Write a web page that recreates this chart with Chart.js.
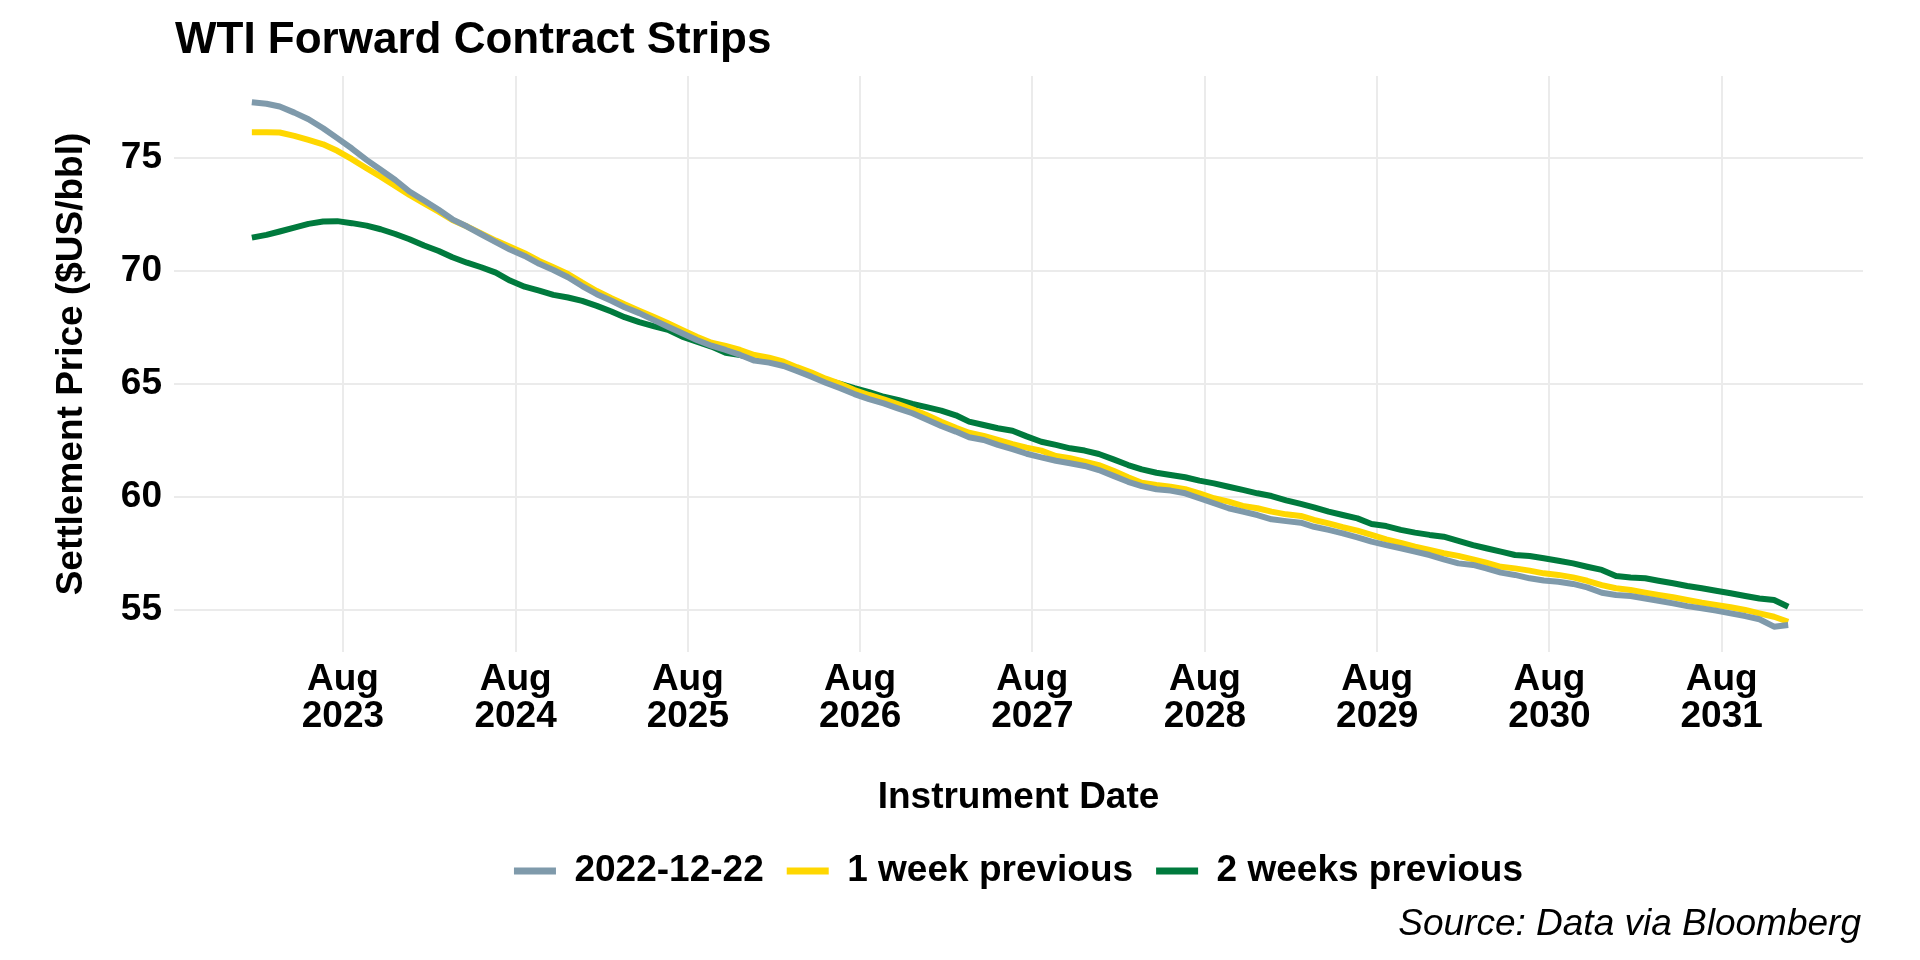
<!DOCTYPE html>
<html>
<head>
<meta charset="utf-8">
<script src="https://cdn.jsdelivr.net/npm/chart.js@4.4.1/dist/chart.umd.min.js"></script>
<style>
  html, body { margin: 0; padding: 0; background: #ffffff; }
  #wrap { width: 1920px; height: 960px; position: relative; }
  canvas { display: block; }
</style>
</head>
<body>
<div id="wrap"><canvas id="c" width="1920" height="960"></canvas></div>
<script>
// ---------------- DATA ----------------
const titleText = 'WTI Forward Contract Strips';
const sourceText = 'Source: Data via Bloomberg';
const xAxisTitle = 'Instrument Date';
const yAxisTitle = 'Settlement Price ($US/bbl)';
const seriesNames = ['2022-12-22', '1 week previous', '2 weeks previous'];

const instrumentDates = [
  '2023-01-20','2023-02-20','2023-03-20','2023-04-20','2023-05-20','2023-06-20','2023-07-20','2023-08-20','2023-09-20','2023-10-20','2023-11-20','2023-12-20',
  '2024-01-20','2024-02-20','2024-03-20','2024-04-20','2024-05-20','2024-06-20','2024-07-20','2024-08-20','2024-09-20','2024-10-20','2024-11-20','2024-12-20',
  '2025-01-20','2025-02-20','2025-03-20','2025-04-20','2025-05-20','2025-06-20','2025-07-20','2025-08-20','2025-09-20','2025-10-20','2025-11-20','2025-12-20',
  '2026-01-20','2026-02-20','2026-03-20','2026-04-20','2026-05-20','2026-06-20','2026-07-20','2026-08-20','2026-09-20','2026-10-20','2026-11-20','2026-12-20',
  '2027-01-20','2027-02-20','2027-03-20','2027-04-20','2027-05-20','2027-06-20','2027-07-20','2027-08-20','2027-09-20','2027-10-20','2027-11-20','2027-12-20',
  '2028-01-20','2028-02-20','2028-03-20','2028-04-20','2028-05-20','2028-06-20','2028-07-20','2028-08-20','2028-09-20','2028-10-20','2028-11-20','2028-12-20',
  '2029-01-20','2029-02-20','2029-03-20','2029-04-20','2029-05-20','2029-06-20','2029-07-20','2029-08-20','2029-09-20','2029-10-20','2029-11-20','2029-12-20',
  '2030-01-20','2030-02-20','2030-03-20','2030-04-20','2030-05-20','2030-06-20','2030-07-20','2030-08-20','2030-09-20','2030-10-20','2030-11-20','2030-12-20',
  '2031-01-20','2031-02-20','2031-03-20','2031-04-20','2031-05-20','2031-06-20','2031-07-20','2031-08-20','2031-09-20','2031-10-20','2031-11-20','2031-12-20'
];

const strip20221222 = [
  77.45, 77.38, 77.26, 76.99, 76.70, 76.30, 75.86, 75.40, 74.90, 74.46,
  74.01, 73.50, 73.10, 72.69, 72.27, 71.95, 71.61, 71.26, 70.93, 70.65,
  70.30, 70.03, 69.71, 69.32, 68.96, 68.67, 68.38, 68.12, 67.82, 67.52,
  67.23, 66.93, 66.68, 66.49, 66.27, 66.02, 65.93, 65.78, 65.56, 65.31,
  65.04, 64.80, 64.54, 64.32, 64.13, 63.91, 63.69, 63.42, 63.13, 62.88,
  62.63, 62.51, 62.29, 62.10, 61.90, 61.74, 61.59, 61.48, 61.36, 61.18,
  60.92, 60.66, 60.47, 60.33, 60.27, 60.15, 59.93, 59.71, 59.49, 59.34,
  59.19, 59.00, 58.92, 58.85, 58.67, 58.53, 58.38, 58.20, 58.01, 57.86,
  57.72, 57.57, 57.42, 57.23, 57.05, 56.98, 56.83, 56.64, 56.54, 56.39,
  56.29, 56.24, 56.14, 55.99, 55.75, 55.65, 55.61, 55.50, 55.40, 55.28,
  55.16, 55.06, 54.96, 54.84, 54.72, 54.58, 54.25, 54.32
];

const stripWeekPrev = [
  76.12, 76.12, 76.11, 75.96, 75.78, 75.59, 75.30, 74.93, 74.53, 74.16,
  73.75, 73.35, 72.98, 72.61, 72.24, 71.95, 71.65, 71.33, 71.06, 70.77,
  70.43, 70.15, 69.85, 69.47, 69.10, 68.78, 68.51, 68.23, 67.96, 67.67,
  67.38, 67.08, 66.81, 66.67, 66.49, 66.27, 66.15, 65.97, 65.73, 65.49,
  65.22, 64.99, 64.72, 64.50, 64.31, 64.10, 63.87, 63.61, 63.32, 63.05,
  62.83, 62.69, 62.51, 62.32, 62.17, 62.04, 61.80, 61.70, 61.55, 61.40,
  61.15, 60.86, 60.62, 60.52, 60.44, 60.33, 60.15, 59.93, 59.78, 59.59,
  59.49, 59.34, 59.22, 59.15, 58.97, 58.82, 58.65, 58.50, 58.31, 58.11,
  57.96, 57.79, 57.64, 57.50, 57.38, 57.23, 57.08, 56.90, 56.83, 56.73,
  56.61, 56.54, 56.43, 56.28, 56.09, 55.95, 55.87, 55.75, 55.65, 55.55,
  55.43, 55.31, 55.21, 55.11, 54.99, 54.84, 54.69, 54.47
];

const stripTwoWeeksPrev = [
  71.46, 71.58, 71.73, 71.90, 72.07, 72.17, 72.19, 72.10, 71.99, 71.83,
  71.62, 71.39, 71.11, 70.87, 70.59, 70.35, 70.15, 69.91, 69.56, 69.29,
  69.12, 68.93, 68.81, 68.66, 68.44, 68.19, 67.94, 67.72, 67.55, 67.38,
  67.08, 66.86, 66.64, 66.37, 66.27, 66.12, 66.01, 65.87, 65.64, 65.38,
  65.16, 64.99, 64.80, 64.63, 64.42, 64.28, 64.10, 63.96, 63.81, 63.60,
  63.32, 63.17, 63.03, 62.92, 62.67, 62.43, 62.29, 62.14, 62.04, 61.89,
  61.65, 61.40, 61.21, 61.06, 60.96, 60.86, 60.71, 60.59, 60.44, 60.30,
  60.15, 60.03, 59.84, 59.68, 59.53, 59.34, 59.19, 59.04, 58.79, 58.70,
  58.53, 58.41, 58.31, 58.23, 58.05, 57.86, 57.72, 57.57, 57.42, 57.38,
  57.28, 57.17, 57.05, 56.90, 56.76, 56.49, 56.43, 56.39, 56.28, 56.17,
  56.05, 55.95, 55.84, 55.73, 55.61, 55.50, 55.43, 55.13
];

const xTickDates = ['2023-08-01','2024-08-01','2025-08-01','2026-08-01','2027-08-01','2028-08-01','2029-08-01','2030-08-01','2031-08-01'];
const xTickLabels = [['Aug','2023'],['Aug','2024'],['Aug','2025'],['Aug','2026'],['Aug','2027'],['Aug','2028'],['Aug','2029'],['Aug','2030'],['Aug','2031']];
const yTickValues = [55, 60, 65, 70, 75];

// ---------------- BUILD ----------------
const toDay = s => Date.parse(s + 'T00:00:00Z') / 864e5;
const xs = instrumentDates.map(toDay);
const pts = arr => arr.map((v, i) => ({ x: xs[i], y: v }));

const colors = ['#7F9AAB', '#FFD700', '#007A3D'];
const FONT = '"Liberation Sans", Arial, "DejaVu Sans", sans-serif';

const xMin = toDay('2023-08-01') - 358;
const xMax = toDay('2031-08-01') + 299.5;

const textPlugin = {
  id: 'texts',
  afterDraw(chart) {
    const ctx = chart.ctx;
    const a = chart.chartArea;
    ctx.save();
    ctx.fillStyle = '#000000';
    ctx.textBaseline = 'alphabetic';
    ctx.textAlign = 'left';
    ctx.font = 'bold 44px ' + FONT;
    ctx.fillText(titleText, a.left + 1, 53);
    ctx.textAlign = 'right';
    ctx.font = 'italic 37px ' + FONT;
    ctx.fillText(sourceText, a.right - 2, 935);
    ctx.restore();
  }
};

new Chart(document.getElementById('c'), {
  type: 'line',
  data: {
    datasets: [
      { label: seriesNames[0], data: pts(strip20221222), borderColor: colors[0], backgroundColor: colors[0] },
      { label: seriesNames[1], data: pts(stripWeekPrev), borderColor: colors[1], backgroundColor: colors[1] },
      { label: seriesNames[2], data: pts(stripTwoWeeksPrev), borderColor: colors[2], backgroundColor: colors[2] }
    ]
  },
  options: {
    responsive: false,
    animation: false,
    devicePixelRatio: 1,
    layout: { padding: { left: 0, right: 57, top: 76, bottom: 60.5 } },
    elements: {
      line: { borderWidth: 6, tension: 0, borderCapStyle: 'butt', borderJoinStyle: 'round' },
      point: { radius: 0, hoverRadius: 0 }
    },
    plugins: {
      title: { display: false },
      tooltip: { enabled: false },
      legend: {
        display: true,
        position: 'bottom',
        fullSize: false,
        labels: {
          font: { family: FONT, size: 37, weight: 'bold' },
          color: '#000000',
          boxWidth: 42,
          boxHeight: 7,
          padding: 23,
          generateLabels(chart) {
            return chart.data.datasets.map((d, i) => ({
              text: d.label,
              fillStyle: d.borderColor,
              strokeStyle: d.borderColor,
              lineWidth: 0,
              hidden: false,
              datasetIndex: i,
              fontColor: '#000000'
            }));
          }
        }
      }
    },
    scales: {
      x: {
        type: 'linear',
        min: xMin,
        max: xMax,
        afterBuildTicks(scale) { scale.ticks = xTickDates.map(d => ({ value: toDay(d) })); },
        afterFit(scale) { scale.height = 177.5; },
        grid: { color: '#EBEBEB', lineWidth: 2, drawTicks: false },
        border: { display: false },
        ticks: {
          autoSkip: false,
          maxRotation: 0,
          padding: 9,
          color: '#000000',
          font: { family: FONT, size: 37, weight: 'bold', lineHeight: 1.0 },
          callback(value, index) { return xTickLabels[index]; }
        },
        title: {
          display: true,
          text: xAxisTitle,
          color: '#000000',
          font: { family: FONT, size: 37, weight: 'bold', lineHeight: 1.2 },
          padding: { top: 0, bottom: 10 }
        }
      },
      y: {
        type: 'linear',
        min: 53.13,
        max: 78.61,
        afterBuildTicks(scale) { scale.ticks = yTickValues.map(v => ({ value: v })); },
        afterFit(scale) { scale.width = 174; },
        grid: { color: '#EBEBEB', lineWidth: 2, drawTicks: false },
        border: { display: false },
        ticks: {
          padding: 12,
          color: '#000000',
          font: { family: FONT, size: 37, weight: 'bold' },
          callback(value) { return String(value); }
        },
        title: {
          display: true,
          text: yAxisTitle,
          color: '#000000',
          font: { family: FONT, size: 37, weight: 'bold', lineHeight: 1.2 },
          padding: { top: 50, bottom: 0 }
        }
      }
    }
  },
  plugins: [textPlugin]
});
</script>
</body>
</html>
